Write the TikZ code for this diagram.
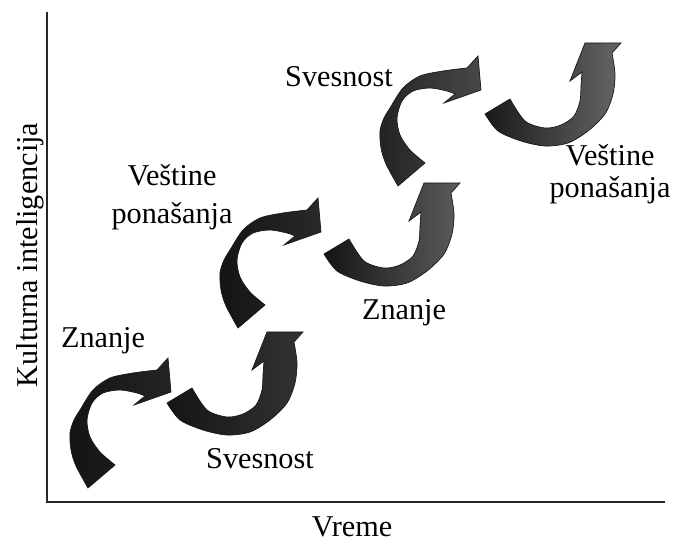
\documentclass[tikz,border=0pt]{standalone}
\usepackage{fontspec}
\setmainfont{Liberation Serif}
\usetikzlibrary{positioning}
\tikzset{
  axis/.style   = {line width=1.3pt, black!85},
  lbl/.style    = {font=\fontsize{21.5}{23}\selectfont, inner sep=0pt, align=center},
  turn/.style 2 args = {left color=black!#1, right color=black!#2,
                        draw=black!90, line width=0.5pt},
}

\begin{document}
\begin{tikzpicture}[x=0.025cm, y=-0.025cm]
  \useasboundingbox (0,0) rectangle (679,544);
  % arrow outlines, drawn for the lowest pair
  \def\upturn{plot[smooth] coordinates {(88,488) (76,466) (71,450) (70,433)
      (74,420) (80,410) (93,390) (110,378) (133,373) (157,370)}
      -- (168,358) -- (171,392) -- (134,405) -- (145,396)
      -- plot[smooth] coordinates {(145,396) (137,393) (120,390) (103,393)
      (92,403) (87,420) (90,437) (100,452) (115,465)} -- cycle}
  \def\downturn{plot[smooth] coordinates {(167,403) (180,420) (203,430)
      (227,435) (250,432) (270,420) (287,403) (295,383) (297,363) (294,342)}
      -- (303,332) -- (267,332) -- (252,370) -- (264,361)
      -- plot[smooth] coordinates {(264,361) (263,375) (262,390) (256,405)
      (243,414) (227,417) (207,410) (192,388)} -- cycle}

  % --- axes ---
  \coordinate (top) at (47,12);
  \coordinate (orig) at (47,502);
  \coordinate (end) at (665,502);
  \draw[axis] (top) -- (orig) -- (end);
  \node[lbl, rotate=90, anchor=base] (kult) at (37,255) {Kulturna inteligencija};
  \node[lbl, anchor=base] (vreme) at (352,537) {Vreme};

  % --- first pair ---
  \path[turn={92}{86}] \upturn;
  \path[turn={92}{80}] \downturn;
  \node[lbl, anchor=base] (zn1) at (103,348) {Znanje};
  \node[lbl, anchor=base] (sv1) at (260,469) {Svesnost};

  % --- second pair ---
  \begin{scope}[shift={(150,-160)}]
    \path[turn={92}{84}] \upturn;
  \end{scope}
  \begin{scope}[shift={(157,-149)}]
    \path[turn={92}{64}] \downturn;
  \end{scope}
  \node[lbl] (ves1) at (172,197) {Veštine\\[4pt]ponašanja};
  \node[lbl, anchor=base] (zn2) at (404,320) {Znanje};

  % --- third pair ---
  \begin{scope}[shift={(310,-302)}]
    \path[turn={86}{72}] \upturn;
  \end{scope}
  \begin{scope}[shift={(318,-289)}]
    \path[turn={90}{60}] \downturn;
  \end{scope}
  \node[lbl, anchor=base] (sv2) at (339,87) {Svesnost};
  \node[lbl] (ves2) at (610,174) {Veštine\\ponašanja};
\end{tikzpicture}
\end{document}
